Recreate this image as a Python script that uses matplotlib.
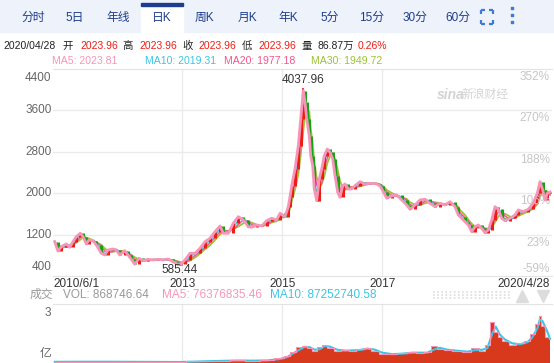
import numpy as np
import pandas as pd
import matplotlib
matplotlib.use('Agg')
import matplotlib.pyplot as plt
from matplotlib.patches import Rectangle

plt.rcParams['font.family'] = ['Liberation Sans', 'Noto Sans CJK SC', 'DejaVu Sans']

# ---------------- data ----------------
dates = [2010.448, 2010.514, 2010.580, 2010.680, 2010.748, 2010.814, 2010.880, 2010.960,
         2011.014, 2011.080, 2011.134, 2011.214, 2011.280, 2011.380, 2011.448, 2011.514,
         2011.614, 2011.680, 2011.748, 2011.848, 2011.914, 2011.980, 2012.048, 2012.134,
         2012.214, 2012.314, 2012.414, 2012.514, 2012.614, 2012.714, 2012.814, 2012.914,
         2012.980, 2013.054, 2013.154, 2013.254, 2013.354, 2013.454, 2013.554, 2013.654,
         2013.754, 2013.820, 2013.920, 2014.020, 2014.120, 2014.220, 2014.320, 2014.388,
         2014.488, 2014.588, 2014.688, 2014.788, 2014.888, 2014.954, 2015.054, 2015.120,
         2015.154, 2015.188, 2015.254, 2015.320, 2015.368, 2015.420, 2015.454, 2015.488,
         2015.540, 2015.568, 2015.608, 2015.640, 2015.688, 2015.740, 2015.788, 2015.840,
         2015.900, 2015.954, 2016.008, 2016.054, 2016.108, 2016.154, 2016.208, 2016.254,
         2016.320, 2016.388, 2016.454, 2016.554, 2016.654, 2016.754, 2016.888, 2016.954,
         2017.020, 2017.088, 2017.188, 2017.288, 2017.388, 2017.488, 2017.554, 2017.654,
         2017.754, 2017.854, 2017.954, 2018.054, 2018.154, 2018.254, 2018.354, 2018.454,
         2018.520, 2018.554, 2018.654, 2018.720, 2018.788, 2018.854, 2018.920, 2018.988,
         2019.054, 2019.120, 2019.188, 2019.254, 2019.320, 2019.388, 2019.454, 2019.554,
         2019.654, 2019.720, 2019.820, 2019.920, 2020.020, 2020.100, 2020.154, 2020.208,
         2020.254, 2020.300, 2020.354]
close = [1063, 880, 967, 1019, 955, 1063, 1160, 1226,
         1160, 1019, 1096, 1083, 1000, 839, 806, 903,
         922, 903, 806, 890, 806, 723, 627, 743,
         696, 723, 710, 723, 710, 729, 677, 615,
         640, 710, 839, 839, 936, 1063, 1129, 1256,
         1367, 1226, 1226, 1419, 1547, 1483, 1353, 1342,
         1386, 1367, 1469, 1516, 1483, 1612, 1547, 1740,
         1933, 2145, 2468, 2918, 3434, 3981, 3757, 3434,
         3111, 2725, 2532, 2082, 1856, 2275, 2468, 2725,
         2854, 2791, 2661, 2339, 2018, 1921, 2145, 2178,
         2082, 2082, 2145, 2223, 2178, 2192, 2178, 2140,
         2030, 1902, 1946, 1966, 1869, 1773, 1689, 1773,
         1869, 1883, 1805, 1740, 1805, 1773, 1836, 1740,
         1579, 1547, 1450, 1386, 1256, 1353, 1386, 1322,
         1237, 1290, 1483, 1740, 1689, 1516, 1469, 1516,
         1579, 1676, 1643, 1689, 1805, 1999, 2223, 2062,
         1869, 1999, 2024]
high_value, high_date = 4037.96, 2015.420
low_value, low_date = 585.44, 2012.954

vol_dates = [2010.45, 2011.0, 2011.5, 2012.0, 2012.5, 2012.95, 2013.2, 2013.5, 2013.8,
             2014.1, 2014.4, 2014.7, 2014.95, 2015.1, 2015.2, 2015.35, 2015.45, 2015.55,
             2015.65, 2015.75, 2015.85, 2015.95, 2016.1, 2016.25, 2016.4, 2016.55, 2016.7,
             2016.85, 2017.0, 2017.2, 2017.4, 2017.6, 2017.75, 2017.9, 2018.05, 2018.15,
             2018.3, 2018.5, 2018.7, 2018.85, 2019.0, 2019.1, 2019.2, 2019.27, 2019.35,
             2019.45, 2019.6, 2019.75, 2019.9, 2020.0, 2020.1, 2020.15, 2020.2, 2020.3, 2020.35]
vol = [0.06, 0.07, 0.06, 0.06, 0.05, 0.05, 0.08, 0.10, 0.12,
       0.13, 0.11, 0.15, 0.25, 0.35, 0.57, 0.80, 0.85, 0.75,
       0.60, 0.80, 0.92, 0.75, 0.60, 0.66, 0.62, 0.70, 0.76,
       0.60, 0.45, 0.45, 0.50, 0.55, 0.50, 0.55, 0.85, 0.70,
       0.65, 0.60, 0.55, 0.75, 0.60, 0.90, 2.10, 1.60, 1.30,
       1.10, 0.90, 1.00, 1.10, 1.50, 2.00, 2.40, 1.90, 1.30, 1.20]  # 亿

price_ticks = [4400, 3600, 2800, 2000, 1200, 400]
pct_labels = ['352%', '270%', '188%', '106%', '23%', '-59%']
grid_years = [2013.0, 2015.0, 2017.0]
x_tick_pos = [2010.414, 2013.0, 2015.0, 2017.0, 2020.354]
x_tick_labels = ['2010/6/1', '2013', '2015', '2017', '2020/4/28']
tabs = ['分时', '5日', '年线', '日K', '周K', '月K', '年K', '5分', '15分', '30分', '60分']

# ---------------- style ----------------
RED, GREEN = '#ee1c14', '#13a313'
C_MA5, C_MA10, C_MA20, C_MA30 = '#f795b8', '#3cc4e6', '#f2568c', '#9cc236'
GRID = '#ebebeb'

W, H = 554, 363
fig = plt.figure(figsize=(W / 100, H / 100), dpi=100)
bg = fig.add_axes([0, 0, 1, 1])
bg.set_xlim(0, W); bg.set_ylim(H, 0); bg.axis('off')

# tab bar
bg.add_patch(Rectangle((0, 0), W, 32, color='#eef2fa', zorder=0))
bg.add_patch(Rectangle((141, 3), 42, 29, color='white', zorder=1))
bg.add_patch(Rectangle((141, 3), 42, 2.5, color='#1d3d8f', zorder=2))
tab_x = [33, 75, 118, 162, 204, 247, 288, 330, 372, 415, 458]
for tx, t in zip(tab_x, tabs):
    bg.text(tx, 17.5, t, ha='center', va='center', fontsize=8.5, color='#1d3d8c', zorder=3)
# expand icon
ic = '#3d7bd6'
for (x0, y0, dx, dy) in [(481, 10, 1, 1), (493, 10, -1, 1), (481, 24, 1, -1), (493, 24, -1, -1)]:
    bg.plot([x0, x0 + 4 * dx], [y0, y0], color=ic, lw=1.6, solid_capstyle='butt', zorder=3)
    bg.plot([x0, x0], [y0, y0 + 4 * dy], color=ic, lw=1.6, solid_capstyle='butt', zorder=3)
bg.scatter([512, 512, 512], [8, 15, 22], s=4, marker='s', color=ic, zorder=3)

# info line
info = [(3, '2020/04/28', '#222222'), (62, '开', '#222222'), (80, '2023.96', RED),
        (122, '高', '#222222'), (139, '2023.96', RED), (182, '收', '#222222'),
        (198, '2023.96', RED), (242, '低', '#222222'), (258, '2023.96', RED),
        (302, '量', '#222222'), (317, '86.87万', '#222222'), (358, '0.26%', RED)]
for x, t, c in info:
    bg.text(x, 46, t, ha='left', va='center', fontsize=7.5, color=c)
ma_info = [(52, 'MA5: 2023.81', C_MA5), (145, 'MA10: 2019.31', C_MA10),
           (224, 'MA20: 1977.18', C_MA20), (311, 'MA30: 1949.72', C_MA30)]
for x, t, c in ma_info:
    bg.text(x, 61.5, t, ha='left', va='center', fontsize=7.6, color=c)

# watermark
bg.text(437, 95, 'sina', ha='left', va='center', fontsize=10, color='#d4d4d4',
        fontweight='bold', style='italic', zorder=1)
bg.text(462, 95, '新浪财经', ha='left', va='center', fontsize=8.5, color='#d4d4d4', zorder=1)

# ---------------- price panel ----------------
x0t = 2010.414
x1t = x0t + 499 * 0.02
ax = fig.add_axes([53 / W, 1 - 276 / H, 499 / W, 207 / H])
ax.patch.set_alpha(0)
ax.set_xlim(x0t, x1t)
ax.set_ylim(400, 4400)
for s in ['left', 'right']:
    ax.spines[s].set_visible(False)
for s in ['top', 'bottom']:
    ax.spines[s].set_color('#e3e3e3')
ax.set_xticks([]); ax.set_yticks([])
for v in price_ticks[1:-1]:
    ax.axhline(v, color=GRID, lw=1, zorder=0)
for g in grid_years:
    ax.axvline(g, color=GRID, lw=1, zorder=0)

d = np.array(dates); c = np.array(close, dtype=float)
s = pd.Series(c)
ma10 = s.rolling(2, min_periods=1).mean()
ma20 = s.rolling(3, min_periods=1).mean()
ma30 = s.rolling(4, min_periods=1).mean()
ax.plot(d, ma30, color=C_MA30, lw=1.3, zorder=2)
ax.plot(d, ma20, color=C_MA20, lw=1.1, zorder=2)
ax.plot(d, ma10, color=C_MA10, lw=1.1, zorder=2)
prev = np.r_[c[0], c[:-1]]
cols = [RED if a >= b else GREEN for a, b in zip(c, prev)]
ax.vlines(d, prev, c, colors=cols, lw=2.2, zorder=3)
ax.vlines([high_date], [close[dates.index(high_date)]], [high_value], colors=RED, lw=1.2, zorder=3)
ax.vlines([low_date], [low_value], [close[dates.index(2012.914)]], colors=RED, lw=1.2, zorder=3)
ax.plot(d, c, color=C_MA5, lw=2.0, zorder=4)

ytr = ax.get_yaxis_transform()
for i, (v, p) in enumerate(zip(price_ticks, pct_labels)):
    va = 'center'
    dy = 0
    if i == 0:
        va, dy = 'top', -2
    elif i == len(price_ticks) - 1:
        va, dy = 'bottom', 2
    ax.annotate(str(v), xy=(-0.003, v), xycoords=ytr, xytext=(0, dy), textcoords='offset points',
                ha='right', va=va, fontsize=8.5, color='#666666')
    rva = 'bottom' if i == len(price_ticks) - 1 else 'top'
    rdy = 1 if i == len(price_ticks) - 1 else -1.5
    ax.annotate(p, xy=(0.996, v), xycoords=ytr, xytext=(0, rdy), textcoords='offset points',
                ha='right', va=rva, fontsize=8.5, color='#c6c6c6')

xtr = ax.get_xaxis_transform()
for i, (xp, lab) in enumerate(zip(x_tick_pos, x_tick_labels)):
    ha = 'left' if i == 0 else ('right' if i == len(x_tick_pos) - 1 else 'center')
    ax.text(xp, -0.04, lab, transform=xtr, ha=ha, va='center', fontsize=8.5, color='#333333')

ax.annotate(f'{high_value:.2f}', xy=(high_date, high_value), xytext=(0, 1),
            textcoords='offset points', ha='center', va='bottom', fontsize=8.5, color='#333333')
ax.annotate(f'{low_value:.2f}', xy=(low_date, low_value), xytext=(0, -2.5),
            textcoords='offset points', ha='center', va='center', fontsize=8.5, color='#333333',
            zorder=6)

# ---------------- volume panel ----------------
bg.text(30, 295, '成交', ha='left', va='center', fontsize=8.5, color='#999999')
bg.text(63, 295, 'VOL: 868746.64', ha='left', va='center', fontsize=8.5, color='#999999')
bg.text(162, 295, 'MA5: 76376835.46', ha='left', va='center', fontsize=8.5, color=C_MA5)
bg.text(270, 295, 'MA10: 87252740.58', ha='left', va='center', fontsize=8.5, color=C_MA10)
for yy in [292, 295, 298]:
    bg.plot([433, 510], [yy, yy], color='#dcdcdc', lw=1.2, ls=(0, (1, 1.5)))
bg.plot([522], [295.5], marker='^', ms=8, color='#dcdcdc', ls='none')
bg.plot([543], [295.5], marker='v', ms=8, color='#dcdcdc', ls='none')

vax = fig.add_axes([53 / W, 0, 499 / W, 59 / H])
vax.patch.set_alpha(0)
vax.set_xlim(x0t, x1t)
vax.set_ylim(0, 3)
for sp in ['left', 'right', 'bottom']:
    vax.spines[sp].set_visible(False)
vax.spines['top'].set_color('#e3e3e3')
vax.set_xticks([]); vax.set_yticks([])
for g in grid_years:
    vax.axvline(g, color=GRID, lw=1, zorder=0)
vd = np.array(vol_dates); vv = np.array(vol)
vax.fill_between(vd, vv, step='mid', color='#d8381c', lw=0, zorder=2)
vs = pd.Series(vv)
vax.plot(vd, vs.rolling(2, min_periods=1).mean(), color=C_MA10, lw=1.5, zorder=3)
vax.plot(vd, vv, color=C_MA5, lw=0.8, zorder=3, drawstyle='steps-mid')
vtr = vax.get_yaxis_transform()
vax.annotate('3', xy=(-0.003, 3), xycoords=vtr, xytext=(0, -2), textcoords='offset points',
             ha='right', va='top', fontsize=8.5, color='#666666')
vax.annotate('亿', xy=(-0.003, 0), xycoords=vtr, xytext=(0, 2), textcoords='offset points',
             ha='right', va='bottom', fontsize=8.5, color='#666666')

fig.savefig('out.png', dpi=100)
